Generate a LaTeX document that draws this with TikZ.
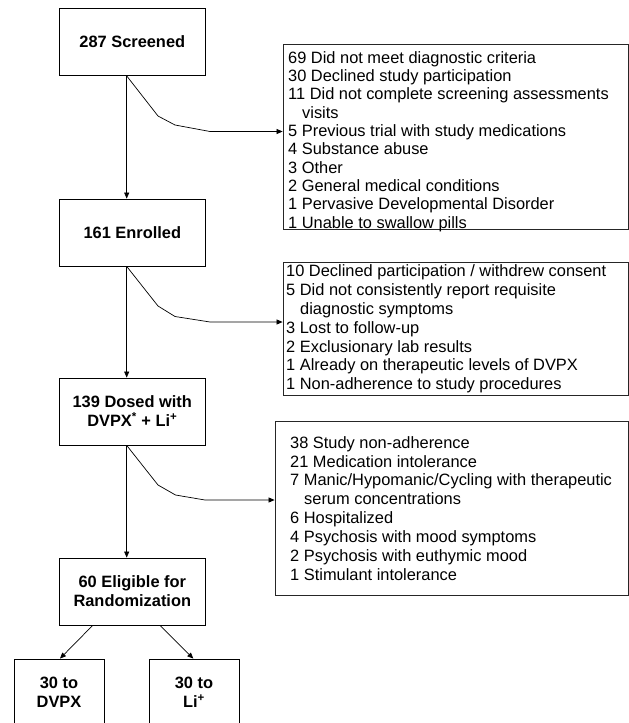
\documentclass[tikz,border=0pt]{standalone}
\usepackage{fontspec}
\setmainfont{Liberation Sans}
\usetikzlibrary{arrows.meta}
\begin{document}
\begin{tikzpicture}[x=1pt,y=-1pt,
  mainbox/.style={draw, line width=0.8pt, inner sep=0pt, minimum width=146pt, minimum height=67pt, align=center, font=\fontsize{16.4}{19}\selectfont\bfseries},
  smallbox/.style={draw, line width=0.8pt, inner sep=0pt, minimum width=90pt, minimum height=67pt, align=center, font=\fontsize{16.4}{19}\selectfont\bfseries},
  sidebox/.style={draw=black!85, line width=0.8pt, inner sep=0pt},
  sidetext/.style={anchor=north west, inner sep=0pt, align=left},
  conn/.style={line width=0.7pt, -{Triangle[length=6pt,width=5pt]}}
]
\clip (0,0) rectangle (629,723);
% main boxes
\node[mainbox] (b1) at (132.3,42) {287 Screened};
\node[mainbox] (b2) at (132.3,232.5) {161 Enrolled};
\node[mainbox] (b3) at (132.3,411.5) {139 Dosed with\\DVPX\textsuperscript{*} + Li\textsuperscript{+}};
\node[mainbox] (b4) at (132.3,591.5) {60 Eligible for\\Randomization};
\node[smallbox] (b5) at (59,692.5) {30 to\\DVPX};
\node[smallbox] (b6) at (194,692.5) {30 to\\Li\textsuperscript{+}};
% side boxes
\node[sidebox, minimum width=345pt, minimum height=185pt] (s1) at (455.5,136.5) {};
\node[sidebox, minimum width=345pt, minimum height=133pt] (s2) at (455.5,328.5) {};
\node[sidebox, minimum width=353pt, minimum height=174pt] (s3) at (451.5,508) {};
\node[sidetext, font=\fontsize{16.4}{18.33}\selectfont] (t1) at (288,51)
 {\rule{0pt}{12pt}69 Did not meet diagnostic criteria\\
  30 Declined study participation\\
  11 Did not complete screening assessments\\
  \hspace*{14pt}visits\\
  5 Previous trial with study medications\\
  4 Substance abuse\\
  3 Other\\
  2 General medical conditions\\
  1 Pervasive Developmental Disorder\\
  1 Unable to swallow pills};
\node[sidetext, font=\fontsize{16.4}{18.83}\selectfont] (t2) at (286,264.5)
 {\rule{0pt}{12pt}10 Declined participation / withdrew consent\\
  5 Did not consistently report requisite\\
  \hspace*{14pt}diagnostic symptoms\\
  3 Lost to follow-up\\
  2 Exclusionary lab results\\
  1 Already on therapeutic levels of DVPX\\
  1 Non-adherence to study procedures};
\node[sidetext, font=\fontsize{16.4}{18.86}\selectfont] (t3) at (290,436)
 {\rule{0pt}{12pt}38 Study non-adherence\\
  21 Medication intolerance\\
  7 Manic/Hypomanic/Cycling with therapeutic\\
  \hspace*{14pt}serum concentrations\\
  6 Hospitalized\\
  4 Psychosis with mood symptoms\\
  2 Psychosis with euthymic mood\\
  1 Stimulant intolerance};
% vertical arrows
\draw[conn] (b1.south -| 126.7,0) -- (b2.north -| 126.7,0);
\draw[conn] (b2.south -| 126.7,0) -- (b3.north -| 126.7,0);
\draw[conn] (b3.south -| 126.7,0) -- (b4.north -| 126.7,0);
% side arrows
\draw[conn] (b1.south -| 126.7,0) -- (158,116) -- (175,125) -- (210,131.5) -- (s1.west |- 0,131.5);
\draw[conn] (b2.south -| 126.7,0) -- (158,306) -- (175,316.5) -- (210,322) -- (s2.west |- 0,322);
\draw[conn] (b3.south -| 126.7,0) -- (158,485) -- (175.5,495) -- (205,500) -- (s3.west |- 0,500);
% randomization arrows
\draw[conn] (b4.south -| 92.7,0) -- (b5.north -| 60,0);
\draw[conn] (b4.south -| 160,0) -- (b6.north -| 193.3,0);
\end{tikzpicture}
\end{document}
